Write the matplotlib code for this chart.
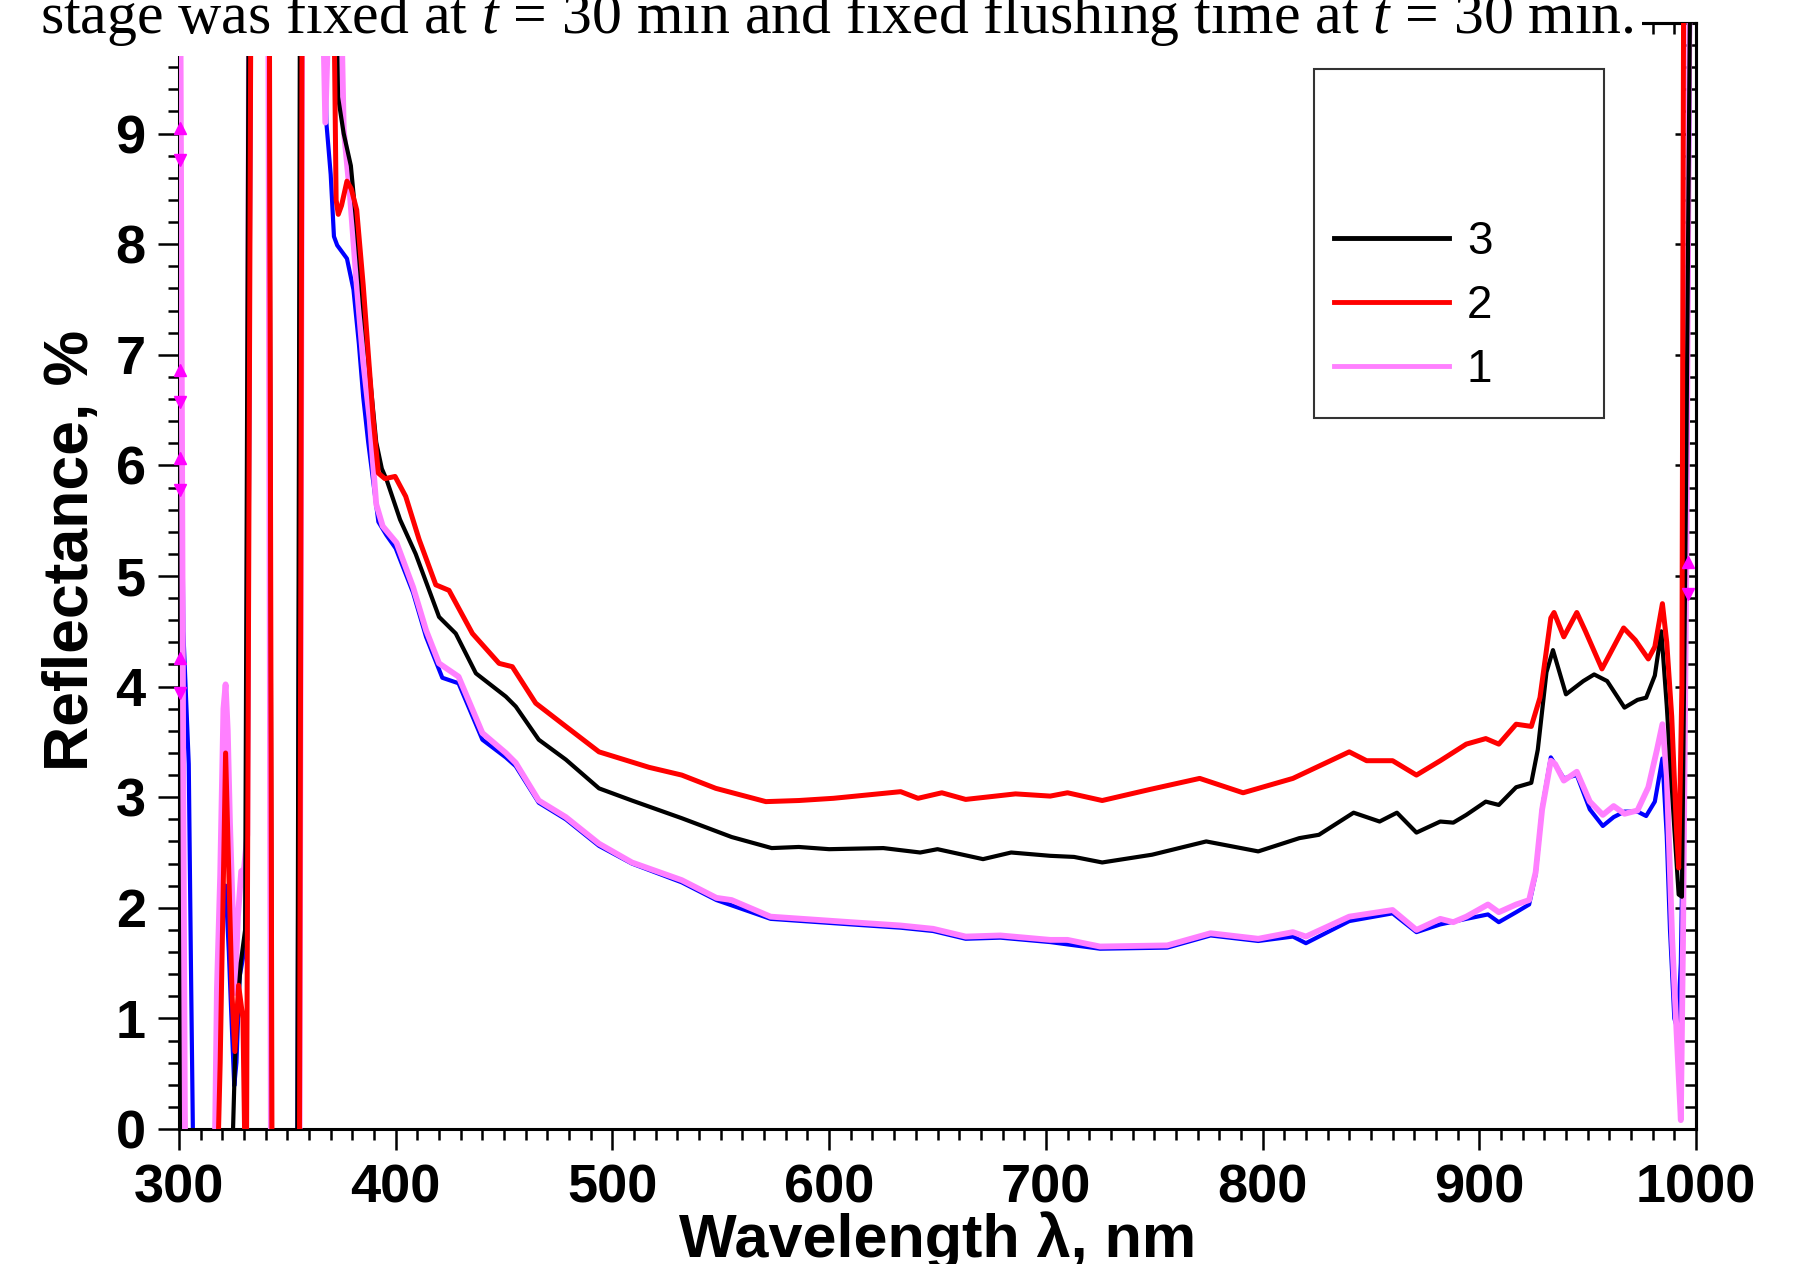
"""
Reflectance spectra of the treated samples (curves 1-3) in the 300-1000 nm range.
"""
import matplotlib
matplotlib.use("Agg")
import matplotlib.pyplot as plt
from matplotlib.patches import Rectangle
from matplotlib.ticker import MultipleLocator

plt.rcParams["font.family"] = ["Liberation Sans", "DejaVu Sans"]
plt.rcParams["mathtext.fontset"] = "custom"
plt.rcParams["mathtext.rm"] = "Liberation Serif"
plt.rcParams["mathtext.it"] = "Liberation Serif:italic"

# --- data (values outside 0..10 are off-scale swings) ---
# curve 1 (pink)
wl_1 = [300.3, 302.0, 303.0, 316.0, 317.5, 319.0, 320.5, 321.5, 322.5, 323.5,
        324.8, 325.8, 327.2, 328.7, 330.0, 331.5, 332.5, 341.0, 342.5, 355.5,
        357.0, 364.5, 367.5, 370.5, 374.0, 376.0, 378.9, 382.0, 385.0, 388.0,
        391.0, 394.0, 400.4, 408.0, 414.0, 420.0, 429.0, 440.0, 450.8, 455.4,
        466.0, 478.5, 493.8, 509.0, 532.0, 548.0, 555.0, 573.0, 610.0, 633.0,
        648.0, 663.0, 679.0, 702.0, 710.0, 725.0, 756.0, 776.0, 798.0, 814.0,
        820.0, 840.0, 860.0, 871.0, 882.0, 888.0, 894.0, 904.0, 909.0, 917.0,
        923.0, 926.0, 929.0, 933.0, 935.0, 939.0, 945.0, 951.0, 957.0, 962.0,
        967.0, 973.0, 978.0, 982.0, 984.5, 986.5, 989.0, 991.0, 993.0, 994.0,
        995.5, 997.5]
r_1 = [12, 3.0, -1, -1, 1.26, 2.29, 3.8, 4.02, 3.6, 2.78,
       1.98, 1.23, 1.92, 2.33, 2.35, 2.66, 12, 12, -1, -1,
       12, 12, 9.1, 11, 11, 9.04, 8.44, 7.63, 6.94, 6.41,
       5.65, 5.45, 5.3, 4.9, 4.51, 4.21, 4.09, 3.58, 3.4, 3.31,
       2.97, 2.82, 2.58, 2.41, 2.25, 2.09, 2.07, 1.92, 1.87, 1.84,
       1.81, 1.74, 1.75, 1.71, 1.71, 1.65, 1.66, 1.77, 1.72, 1.78,
       1.74, 1.92, 1.98, 1.80, 1.90, 1.87, 1.92, 2.03, 1.96, 2.03,
       2.07, 2.32, 2.89, 3.33, 3.30, 3.15, 3.23, 2.96, 2.84, 2.92,
       2.85, 2.88, 3.09, 3.43, 3.66, 3.20, 1.72, 0.89, 0.08, 1.7,
       5.0, 12]

# curve 2 (red)
wl_2 = [300.5, 301.5, 302.5, 303.5, 317.0, 319.0, 321.5, 323.0, 324.5, 325.8,
        327.5, 329.5, 331.0, 333.5, 341.5, 343.0, 355.5, 357.0, 370.5, 372.5,
        373.5, 375.0, 377.5, 379.5, 382.0, 385.0, 387.3, 389.6, 392.0, 395.0,
        399.7, 404.6, 410.8, 418.5, 424.6, 435.4, 447.7, 453.8, 464.6, 478.5,
        493.8, 516.9, 532.0, 547.7, 570.8, 586.0, 602.0, 633.0, 641.0, 652.0,
        663.0, 686.0, 702.0, 710.0, 726.0, 748.0, 771.0, 791.0, 814.0, 840.0,
        848.0, 860.0, 871.0, 882.0, 894.0, 903.0, 909.0, 917.0, 924.0, 928.0,
        933.0, 934.5, 939.0, 945.0, 949.0, 956.6, 966.6, 972.0, 978.0, 981.0,
        984.5, 986.5, 988.8, 991.0, 992.0, 993.5, 994.5]
r_2 = [12, 4.0, 0.5, -1, -1, 0.6, 3.4, 2.3, 1.2, 0.7,
       1.3, 1.0, -1, 12, 12, -1, -1, 12, 12, 8.4,
       8.27, 8.35, 8.57, 8.5, 8.31, 7.63, 7.02, 6.42, 5.93, 5.88,
       5.9, 5.72, 5.33, 4.92, 4.87, 4.48, 4.21, 4.18, 3.85, 3.64,
       3.41, 3.27, 3.20, 3.08, 2.96, 2.97, 2.99, 3.05, 2.99, 3.04,
       2.98, 3.03, 3.01, 3.04, 2.97, 3.07, 3.17, 3.04, 3.17, 3.41,
       3.33, 3.33, 3.20, 3.33, 3.48, 3.53, 3.48, 3.66, 3.64, 3.90,
       4.62, 4.67, 4.45, 4.67, 4.50, 4.16, 4.53, 4.42, 4.25, 4.36,
       4.75, 4.40, 3.73, 2.7, 2.36, 4.0, 12]

# curve 3 (black)
wl_3 = [300.3, 302.0, 323.5, 325.8, 327.0, 328.5, 330.5, 332.5, 341.5, 343.0,
        354.5, 356.0, 371.0, 373.4, 376.0, 379.3, 382.0, 385.0, 388.0, 391.0,
        393.6, 395.8, 402.0, 409.2, 420.0, 427.7, 437.0, 450.8, 455.4, 466.0,
        478.5, 493.8, 509.0, 532.0, 555.0, 573.5, 586.0, 600.0, 625.0, 642.0,
        650.0, 671.0, 684.0, 702.0, 713.0, 726.0, 749.0, 774.0, 798.0, 817.0,
        826.0, 842.0, 854.0, 862.0, 871.0, 882.0, 888.0, 894.0, 903.0, 909.0,
        917.0, 924.0, 927.0, 931.0, 934.0, 940.0, 948.0, 953.0, 959.0, 967.0,
        973.0, 977.0, 981.0, 984.0, 986.5, 990.0, 992.0, 993.5, 995.5, 998.0]
r_3 = [12, -1, -1, 0.6, 1.1, 1.5, 1.8, 12, 12, -1,
       -1, 12, 12, 9.33, 9.0, 8.71, 8.15, 7.42, 6.82, 6.21,
       5.97, 5.87, 5.51, 5.2, 4.63, 4.48, 4.12, 3.91, 3.82, 3.52,
       3.34, 3.08, 2.97, 2.81, 2.64, 2.54, 2.55, 2.53, 2.54, 2.50,
       2.53, 2.44, 2.50, 2.47, 2.46, 2.41, 2.48, 2.60, 2.51, 2.63,
       2.66, 2.86, 2.78, 2.86, 2.68, 2.78, 2.77, 2.84, 2.96, 2.93,
       3.09, 3.13, 3.43, 4.13, 4.33, 3.93, 4.05, 4.11, 4.05, 3.81,
       3.88, 3.90, 4.10, 4.50, 3.83, 2.72, 2.12, 2.10, 6.0, 12]

# unlabelled blue curve (mostly hidden under curve 1)
wl_b = [300.3, 301.0, 302.0, 304.5, 305.5, 307.0, 316.0, 316.8, 318.8, 320.0,
        321.5, 323.0, 324.0, 325.5, 326.5, 328.0, 330.0, 331.5, 333.5, 341.0,
        342.5, 354.5, 356.5, 366.0, 368.0, 370.0, 371.5, 373.0, 377.5, 380.5,
        383.0, 385.0, 387.3, 392.0, 395.7, 400.0, 408.0, 414.0, 421.5, 429.0,
        440.0, 450.8, 455.4, 466.0, 478.5, 493.8, 509.0, 532.0, 548.0, 573.0,
        610.0, 633.0, 648.0, 663.0, 679.0, 702.0, 725.0, 756.0, 776.0, 798.0,
        814.0, 820.0, 840.0, 860.0, 871.0, 882.0, 894.0, 904.0, 909.0, 917.0,
        923.0, 926.0, 929.0, 933.0, 939.0, 945.0, 951.0, 957.0, 962.0, 967.0,
        973.0, 977.0, 981.0, 984.5, 986.5, 988.0, 990.0, 991.5, 993.0, 995.0,
        996.5, 998.0]
r_b = [12, 7.0, 4.5, 3.3, 1.5, -1, -1, 0.3, 1.0, 2.2,
       2.2, 1.6, 1.1, 0.39, 0.6, 1.38, 1.6, 1.71, 12, 12,
       -1, -1, 12, 12, 9.1, 8.63, 8.07, 7.99, 7.87, 7.59,
       7.1, 6.62, 6.21, 5.49, 5.37, 5.25, 4.85, 4.45, 4.08, 4.03,
       3.52, 3.36, 3.28, 2.95, 2.80, 2.56, 2.40, 2.23, 2.07, 1.90,
       1.85, 1.82, 1.79, 1.72, 1.73, 1.69, 1.63, 1.64, 1.75, 1.70,
       1.74, 1.68, 1.88, 1.95, 1.78, 1.85, 1.90, 1.94, 1.87, 1.96,
       2.03, 2.30, 2.90, 3.36, 3.17, 3.20, 2.89, 2.74, 2.82, 2.87,
       2.87, 2.83, 2.96, 3.35, 2.65, 1.8, 1.0, 0.9, 1.5, 4.0,
       8.0, 12]

# small magenta range markers at the ends of the scan
mark_up_wl = [300.5, 300.5, 300.5, 300.5, 996.4]
mark_up_r = [9.05, 6.86, 6.07, 4.26, 5.13]
mark_dn_wl = [300.5, 300.5, 300.5, 300.5, 996.4]
mark_dn_r = [8.76, 6.57, 5.78, 3.94, 4.84]

W, H = 1797, 1264
fig = plt.figure(figsize=(W / 100, H / 100), dpi=100)
ax = fig.add_axes([179 / W, 135 / H, 1517 / W, 1106 / H])

ax.plot(wl_b, r_b, color="#0000ff", lw=3.0, zorder=2)
ax.plot(wl_2[:4], r_2[:4], color="#ff0000", lw=3.0, zorder=2)
ax.plot(wl_3[:2], r_3[:2], color="black", lw=3.0, zorder=2)
l1, = ax.plot(wl_1, r_1, color="#ff80ff", lw=4.2, zorder=3)
l3, = ax.plot(wl_3[1:], r_3[1:], color="black", lw=3.0, zorder=4)
l2, = ax.plot(wl_2[3:], r_2[3:], color="#ff0000", lw=3.6, zorder=5)
ax.plot(mark_up_wl, mark_up_r, ls="none", marker="^", ms=9, color="#ff00ff", zorder=6, clip_on=False)
ax.plot(mark_dn_wl, mark_dn_r, ls="none", marker="v", ms=9, color="#ff00ff", zorder=6, clip_on=False)

ax.set_xlim(300, 1000)
ax.set_ylim(0, 10)
ax.xaxis.set_major_locator(MultipleLocator(100))
ax.xaxis.set_minor_locator(MultipleLocator(10))
ax.set_yticks(range(0, 10))
ax.yaxis.set_minor_locator(MultipleLocator(0.2))

for sp in ax.spines.values():
    sp.set_linewidth(2.2)

ax.tick_params(which="major", direction="out", length=15, width=1.8)
ax.tick_params(which="minor", direction="out", length=8, width=1.8)
ax.tick_params(axis="x", which="major", pad=10)
ax.tick_params(axis="y", which="major", pad=9)
for lab in ax.get_xticklabels() + ax.get_yticklabels():
    lab.set_fontsize(39)
    lab.set_fontweight("bold")

# inward ticks on the top and right frame
top = ax.secondary_xaxis("top")
top.xaxis.set_major_locator(MultipleLocator(100))
top.xaxis.set_minor_locator(MultipleLocator(10))
top.tick_params(which="major", direction="in", length=15, width=1.8, labeltop=False)
top.tick_params(which="minor", direction="in", length=8, width=1.8)
right = ax.secondary_yaxis("right")
right.set_yticks(range(0, 10))
right.yaxis.set_minor_locator(MultipleLocator(0.2))
right.tick_params(which="major", direction="in", length=15, width=1.8, labelright=False)
right.tick_params(which="minor", direction="in", length=8, width=1.8)
for sec in (top, right):
    for sp in sec.spines.values():
        sp.set_linewidth(2.2)

ax.set_xlabel("Wavelength λ, nm", fontsize=44, fontweight="bold")
ax.xaxis.label.set_va("baseline")
ax.xaxis.set_label_coords(0.5, (1129 - 1257) / 1106)
ax.set_ylabel("Reflectance, %", fontsize=45, fontweight="bold")
ax.yaxis.set_label_coords((101 - 179) / 1517, (1129 - 550) / 1106)

# legend: entries without frame, framed by a separate tall box
leg = ax.legend([l3, l2, l1], ["3", "2", "1"], loc="upper left",
                bbox_to_anchor=(1334 / W, 1 - 220 / H), bbox_transform=fig.transFigure,
                frameon=False, fontsize=33, handlelength=2.5, handletextpad=0.4,
                labelspacing=0.44, borderpad=0, borderaxespad=0)
for h in leg.legend_handles:
    h.set_linewidth(3.5)
fig.add_artist(Rectangle((1314 / W, 1 - 418 / H), 290 / W, 349 / H,
                         transform=fig.transFigure, fill=False,
                         edgecolor="#333333", lw=1.5))

# caption line of the source page, overlapping the top of the frame
fig.text(40 / W, 1 - 33 / H,
         "stage was fixed at $t$ = 30 min and fixed flushing time at $t$ = 30 min.",
         fontsize=43, family="Liberation Serif", ha="left", va="baseline",
         bbox=dict(facecolor="white", edgecolor="none", pad=6), zorder=10)

fig.savefig("out.png", dpi=100)
